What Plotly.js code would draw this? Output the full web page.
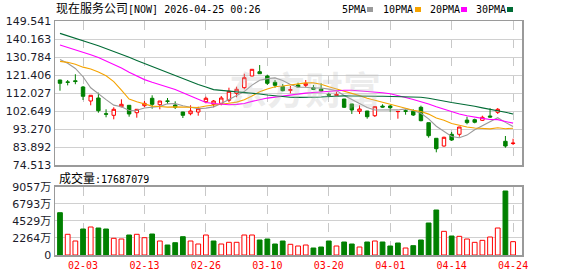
<!DOCTYPE html>
<html>
<head>
<meta charset="utf-8">
<script src="https://cdn.plot.ly/plotly-3.0.1.min.js"></script>
<style>html,body{margin:0;padding:0;background:#fff;}#chart{width:578px;height:276px;}</style>
</head>
<body>
<div id="chart"></div>
<script>
// ---- data ----
const dates = ["2026-01-29","2026-01-30","2026-02-02","2026-02-03","2026-02-04","2026-02-05","2026-02-06","2026-02-09","2026-02-10","2026-02-11","2026-02-12","2026-02-13","2026-02-17","2026-02-18","2026-02-19","2026-02-20","2026-02-23","2026-02-24","2026-02-25","2026-02-26","2026-02-27","2026-03-02","2026-03-03","2026-03-04","2026-03-05","2026-03-06","2026-03-09","2026-03-10","2026-03-11","2026-03-12","2026-03-13","2026-03-16","2026-03-17","2026-03-18","2026-03-19","2026-03-20","2026-03-23","2026-03-24","2026-03-25","2026-03-26","2026-03-27","2026-03-30","2026-03-31","2026-04-01","2026-04-02","2026-04-06","2026-04-07","2026-04-08","2026-04-09","2026-04-10","2026-04-13","2026-04-14","2026-04-15","2026-04-16","2026-04-17","2026-04-20","2026-04-21","2026-04-22","2026-04-23","2026-04-24"];
const openP  = [118.80,117.80,118.40,115.15,107.86,109.42,101.20,100.41,104.89,105.62,101.76,105.41,109.27,105.93,107.90,105.77,102.12,101.24,102.12,107.49,106.14,106.66,108.22,111.87,114.79,120.88,123.12,120.88,117.60,115.31,113.40,116.20,116.04,114.79,114.11,111.30,110.72,108.90,106.30,102.49,102.65,100.20,105.20,105.25,102.30,102.80,102.49,104.58,96.55,88.43,84.41,90.51,90.51,97.90,98.12,97.80,100.04,101.97,86.86,85.70];
const highP  = [118.90,118.80,121.80,115.67,110.90,112.20,103.53,104.58,108.74,105.70,103.60,107.86,110.83,107.90,109.42,107.70,102.20,105.62,104.89,110.10,108.38,110.46,114.79,115.31,122.08,124.50,126.60,121.56,118.80,116.72,115.67,117.40,118.80,116.20,117.08,112.20,112.70,108.95,106.35,105.62,102.70,105.25,106.14,105.77,102.50,103.53,103.53,105.41,96.60,88.50,89.26,91.71,94.35,99.68,98.64,100.20,104.06,104.21,89.63,88.22];
const lowP   = [113.23,116.00,116.60,108.38,105.62,101.76,99.37,98.32,104.58,99.68,99.16,104.58,103.85,103.53,106.30,103.69,99.00,100.41,100.20,106.66,104.58,105.62,107.18,109.79,113.96,120.70,121.93,116.20,114.79,112.91,111.87,114.79,115.00,113.59,112.70,109.79,110.46,104.21,101.09,101.09,98.64,99.52,104.40,102.28,98.64,100.72,100.04,97.28,88.74,81.13,84.05,87.02,89.26,95.72,96.24,97.44,99.20,101.09,83.53,84.93];
const closeP = [117.08,117.60,118.00,110.31,110.83,102.80,101.00,103.53,106.14,101.09,103.53,106.66,106.14,107.86,107.70,104.58,100.41,102.65,103.85,109.27,107.86,109.42,112.91,113.96,120.00,124.37,122.08,117.08,116.04,113.23,113.80,115.15,117.08,113.96,113.07,110.90,111.24,104.58,103.17,103.69,99.68,104.90,104.70,104.37,102.40,102.50,100.57,97.60,89.78,83.00,88.95,87.54,94.31,96.60,96.80,99.37,99.50,103.53,84.41,85.90];
const ma5  = [129.5,127.5,124.8,120.5,114.76,111.91,108.59,105.69,104.86,102.91,103.06,104.19,104.71,105.06,106.38,106.59,105.34,104.64,103.84,104.15,104.81,106.61,108.66,110.68,112.83,116.13,118.66,119.5,119.91,118.56,116.45,115.06,115.06,114.64,114.61,114.03,113.25,110.75,108.59,106.72,104.47,103.2,103.23,103.47,103.21,103.77,102.91,101.49,98.57,94.69,91.98,89.37,88.72,90.08,92.84,94.92,97.32,99.16,96.72,94.54];
const ma10 = [128.5,128.0,127.0,125.5,124.5,123.0,121.0,118.0,113.5,108.84,107.48,106.39,105.2,104.96,104.65,104.82,104.76,104.68,104.45,105.27,105.7,105.97,106.65,107.26,108.49,110.47,112.64,114.08,115.3,115.7,116.29,116.86,117.28,117.28,116.59,115.24,114.16,112.91,111.62,110.66,109.25,108.23,106.99,106.03,104.96,104.12,103.06,102.36,101.02,98.95,97.88,96.14,95.1,94.33,93.77,93.45,93.35,93.94,93.4,93.69];
const ma20 = [137.0,135.8,134.6,133.4,132.0,130.5,128.8,127.0,125.0,122.8,120.8,119.0,117.6,116.4,115.2,113.8,112.2,110.5,108.8,107.05,106.59,106.18,105.93,106.11,106.57,107.65,108.7,109.38,109.87,110.48,110.99,111.42,111.97,112.27,112.54,112.85,113.4,113.49,113.46,113.18,112.77,112.54,112.13,111.65,110.77,109.68,108.61,107.63,106.32,104.81,103.56,102.18,101.05,100.18,99.36,98.79,98.2,98.15,97.21,96.32];
const ma30 = [143.1,141.9,140.6,139.3,138.0,136.6,135.2,133.7,132.2,130.6,129.0,127.4,125.8,124.2,122.7,121.1,119.5,118.0,116.5,115.1,113.8,113.4,113.1,112.7,112.3,111.9,111.5,111.0,110.5,109.93,109.82,109.74,109.71,109.83,109.91,110.18,110.52,110.55,110.45,110.54,110.41,110.35,110.31,110.19,110.01,109.94,109.95,109.78,109.31,108.44,107.81,107.08,106.46,105.88,105.1,104.27,103.52,103.07,102.01,101.1];
const volume = [56090000,27450000,18560000,34480000,37130000,35800000,34480000,22140000,21220000,26520000,27450000,22940000,27850000,18560000,13260000,16310000,24270000,18560000,14590000,26520000,18560000,14590000,16840000,16840000,26520000,26520000,19890000,21220000,14590000,18560000,14190000,11930000,13260000,9280000,10610000,18560000,11930000,17240000,14590000,10610000,17240000,18560000,17240000,11930000,15910000,9280000,12380000,19890000,42430000,59670000,31380000,25190000,24750000,21220000,16800000,19450000,23870000,35800000,84860000,17687079];
const priceTickLabels = ["149.541","140.163","130.784","121.406","112.027","102.649","93.270","83.892","74.513"];
const volTickVals = [0,22642500,45285000,67927500,90570000];
const volTickLabels = ["0","2264万","4529万","6793万","9057万"];
const dateTickVals = ["2026-02-03","2026-02-13","2026-02-26","2026-03-10","2026-03-20","2026-04-01","2026-04-14","2026-04-24"];
const dateTickLabels = ["02-03","02-13","02-26","03-10","03-20","04-01","04-14","04-24"];
const maNames = ["5PMA","10PMA","20PMA","30PMA"];
const maColors = ["#9a9a9a","#f5a300","#ff00ff","#006b35"];
const titleName = "现在服务公司";
const titleRest = "[NOW] 2026-04-25 00:26";
const volLabel = "成交量";
const volLast = "17687079";

// ---- helpers ----
const W = 578, H = 276;
const px = x => x / W;
const py = y => 1 - y / H;
const RED = "#ff0000", GREEN = "#008000";
const monoFont = "DejaVu Sans Mono, Noto Sans CJK SC, monospace";
const cjkSpan = t => '<span style="font-size:12px;font-family:Noto Sans CJK SC">' + t + '</span>';

const volUp = volume.map((v, i) => i === 0 ? closeP[i] >= openP[i] : closeP[i] >= closeP[i - 1]);

const traces = [];
traces.push({
  type: "candlestick", x: dates, open: openP, high: highP, low: lowP, close: closeP,
  xaxis: "x", yaxis: "y", whiskerwidth: 0,
  increasing: {line: {color: RED, width: 1}, fillcolor: "#ffffff"},
  decreasing: {line: {color: GREEN, width: 1}, fillcolor: GREEN},
  hoverinfo: "skip", showlegend: false
});
[ma5, ma10, ma20, ma30].forEach((arr, k) => {
  traces.push({type: "scatter", mode: "lines", x: dates, y: arr, xaxis: "x", yaxis: "y",
    name: maNames[k], line: {color: maColors[k], width: 1.1}, hoverinfo: "skip", showlegend: false});
});
traces.push({
  type: "bar", x: dates, y: volume, xaxis: "x2", yaxis: "y2", width: 0.62,
  marker: {color: volUp.map(u => u ? "#ffffff" : GREEN), line: {color: volUp.map(u => u ? RED : GREEN), width: 1}},
  hoverinfo: "skip", showlegend: false
});

const xRange = [-0.65, 60.16];
const xCommon = {
  type: "category", range: xRange, domain: [px(55), px(522)],
  tickvals: dateTickVals, ticktext: dateTickLabels,
  showgrid: true, gridcolor: "#c8c8c8", griddash: "dash", gridwidth: 1,
  showline: true, mirror: true, linecolor: "#9a9a9a", linewidth: 1.5,
  zeroline: false, ticks: "", fixedrange: true
};

const annotations = [
  {xref: "paper", yref: "paper", x: px(57), y: py(177), xanchor: "left", yanchor: "middle",
   text: cjkSpan(volLabel) + ":" + volLast, showarrow: false, font: {family: monoFont, size: 10, color: "#000"}},
  {xref: "paper", yref: "paper", x: px(305), y: py(88), xanchor: "center", yanchor: "middle",
   text: "东方财富", showarrow: false, font: {family: "Noto Sans CJK SC", size: 38, color: "rgba(190,190,190,0.28)", weight: 700}}
];
const legendX = [340, 381, 428, 474];
const swatchX = [367, 415, 461, 507];
const shapes = [];
maNames.forEach((n, k) => {
  annotations.push({xref: "paper", yref: "paper", x: px(legendX[k]), y: py(9.5), xanchor: "left", yanchor: "middle",
    text: n, showarrow: false, font: {family: monoFont, size: 10, color: "#000"}});
  shapes.push({type: "rect", xref: "paper", yref: "paper", x0: px(swatchX[k]), x1: px(swatchX[k] + 6),
    y0: py(12), y1: py(7), fillcolor: maColors[k], line: {width: 0}});
});

const layout = {
  width: W, height: H, margin: {l: 0, r: 0, t: 0, b: 0},
  paper_bgcolor: "#ffffff", plot_bgcolor: "#ffffff",
  showlegend: false, boxgap: 0.36,
  title: {text: cjkSpan(titleName) + titleRest, xref: "container", yref: "container",
    x: px(56), xanchor: "left", y: py(9.5), yanchor: "middle",
    font: {family: monoFont, size: 10, color: "#000"}},
  xaxis: Object.assign({}, xCommon, {anchor: "y", showticklabels: false, rangeslider: {visible: false}}),
  xaxis2: Object.assign({}, xCommon, {anchor: "y2", matches: "x", showticklabels: true,
    tickfont: {family: monoFont, size: 10, color: RED}}),
  yaxis: {domain: [py(165), py(21)], range: [74.513, 149.541],
    tickvals: priceTickLabels.map(parseFloat), ticktext: priceTickLabels,
    tickfont: {family: "DejaVu Sans, sans-serif", size: 11, color: "#1a1a2a"},
    showgrid: true, gridcolor: "#d0d0d0", gridwidth: 1, zeroline: false,
    showline: true, mirror: true, linecolor: "#9a9a9a", linewidth: 1.5, ticks: "", fixedrange: true, anchor: "x"},
  yaxis2: {domain: [py(255), py(186.7)], range: [0, 90570000],
    tickvals: volTickVals, ticktext: volTickLabels,
    tickfont: {family: "DejaVu Sans, Noto Sans CJK SC, sans-serif", size: 11, color: "#1a1a2a"},
    showgrid: true, gridcolor: "#d0d0d0", gridwidth: 1, zeroline: false,
    showline: true, mirror: true, linecolor: "#9a9a9a", linewidth: 1.5, ticks: "", fixedrange: true, anchor: "x2"},
  annotations: annotations, shapes: shapes
};

Plotly.newPlot("chart", traces, layout, {staticPlot: true, displayModeBar: false});
</script>
</body>
</html>
